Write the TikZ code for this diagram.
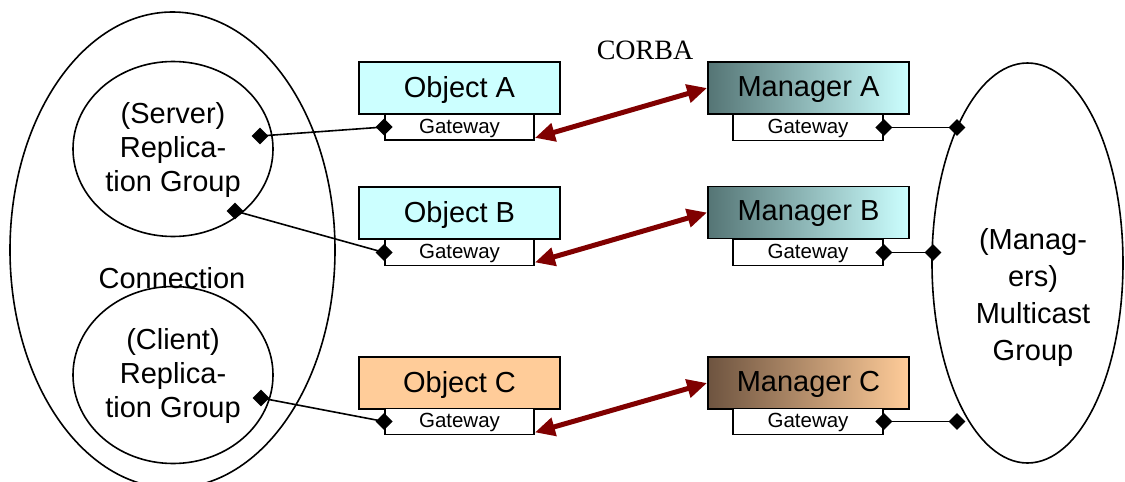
\documentclass[tikz,border=0pt]{standalone}
\usepackage{fontspec}
\setmainfont{Liberation Sans}
\newfontfamily\corbafont{Liberation Serif}
\usetikzlibrary{arrows.meta,shapes.geometric}
\definecolor{objcyan}{HTML}{CCFFFF}
\definecolor{objtan}{HTML}{FFCC99}
\definecolor{mgrteal}{HTML}{557575}
\definecolor{mgrbrown}{HTML}{6E5440}
\definecolor{corbared}{HTML}{800000}
\begin{document}
\begin{tikzpicture}[x=1pt,y=-1pt,
  outline/.style={draw=black,line width=1.8pt},
  bigtext/.style={font=\fontsize{29}{34}\selectfont},
  groupshape/.style={ellipse,draw=black,line width=1.6pt,inner sep=0pt},
  objbox/.style={outline,minimum width=201pt,minimum height=52pt,inner sep=0pt,bigtext,text depth=3pt},
  gatebox/.style={outline,fill=white,minimum width=149pt,minimum height=26pt,inner sep=0pt,font=\fontsize{20.5}{24}\selectfont,text depth=2pt},
  mgrbox/.style={objbox,left color=#1},
  dia/.style={diamond,fill=black,minimum size=17pt,inner sep=0pt},
  link/.style={draw=black,line width=1.6pt},
  corba/.style={draw=corbared,line width=5pt,{Triangle[length=20pt,width=18pt]}-{Triangle[length=20pt,width=18pt]}}
]
\useasboundingbox (0,0) rectangle (1125,482);

% connection with its two replication groups
\node[groupshape,minimum width=325pt,minimum height=476pt] (conn) at (172.5,250) {};
\node[groupshape,minimum width=200pt,minimum height=175pt] (server) at (173,149) {};
\node[groupshape,minimum width=200pt,minimum height=177pt] (client) at (173,375) {};
\node[bigtext,align=center] (servertxt) at (173,150) {(Server)\\Replica-\\tion Group};
\node[bigtext,align=center] (clienttxt) at (173,376) {(Client)\\Replica-\\tion Group};
\node[bigtext] (conntxt) at (172,278) {Connection};

% managers multicast group
\node[groupshape,minimum width=191pt,minimum height=400pt] (mcast) at (1027.5,263) {};
\node[font=\fontsize{29}{37}\selectfont,align=center] (mcasttxt) at (1033,297) {(Manag-\\ers)\\Multicast\\Group};

% objects
\node[objbox,fill=objcyan] (oA) at (459.5,88) {Object A};
\node[objbox,fill=objcyan] (oB) at (459.5,213) {Object B};
\node[objbox,fill=objtan] (oC) at (459.5,383) {Object C};
\node[gatebox] (gA) at (459.5,127) {Gateway};
\node[gatebox] (gB) at (459.5,252.5) {Gateway};
\node[gatebox] (gC) at (459.5,421.5) {Gateway};

% managers
\node[mgrbox=mgrteal,right color=objcyan] (mA) at (808.5,88) {Manager A};
\node[mgrbox=mgrteal,right color=objcyan] (mB) at (808.5,212.5) {Manager B};
\node[mgrbox=mgrbrown,right color=objtan] (mC) at (808.5,383) {Manager C};
\node[gatebox,minimum width=150pt] (hA) at (808,127.5) {Gateway};
\node[gatebox,minimum width=150pt] (hB) at (808,252.5) {Gateway};
\node[gatebox,minimum width=150pt] (hC) at (808,421.5) {Gateway};

\node[font=\corbafont\fontsize{28}{32}\selectfont] (corbatxt) at (645,50) {CORBA};

% attachment points
\node[dia] (sA) at (260,136) {};
\node[dia] (sB) at (235,211) {};
\node[dia] (cC) at (261,398) {};
\node[dia] (gAd) at (gA.west) {};
\node[dia] (gBd) at (gB.west) {};
\node[dia] (gCd) at (gC.west) {};
\node[dia] (hAd) at (hA.east) {};
\node[dia] (hBd) at (hB.east) {};
\node[dia] (hCd) at (hC.east) {};
\node[dia] (tA) at (957,127.5) {};
\node[dia] (tB) at (933,252.5) {};
\node[dia] (tC) at (957,421.5) {};

% group links
\draw[link] (sA.center) -- (gAd.center);
\draw[link] (sB.center) -- (gBd.center);
\draw[link] (cC.center) -- (gCd.center);
\draw[link] (hAd.center) -- (tA.center);
\draw[link] (hBd.center) -- (tB.center);
\draw[link] (hCd.center) -- (tC.center);

% CORBA links
\draw[corba] ([yshift=3pt]gA.south east) -- (mA.west);
\draw[corba] ([yshift=4pt]gB.south east) -- (mB.west);
\draw[corba] ([yshift=3pt]gC.south east) -- (mC.west);
\end{tikzpicture}
\end{document}
